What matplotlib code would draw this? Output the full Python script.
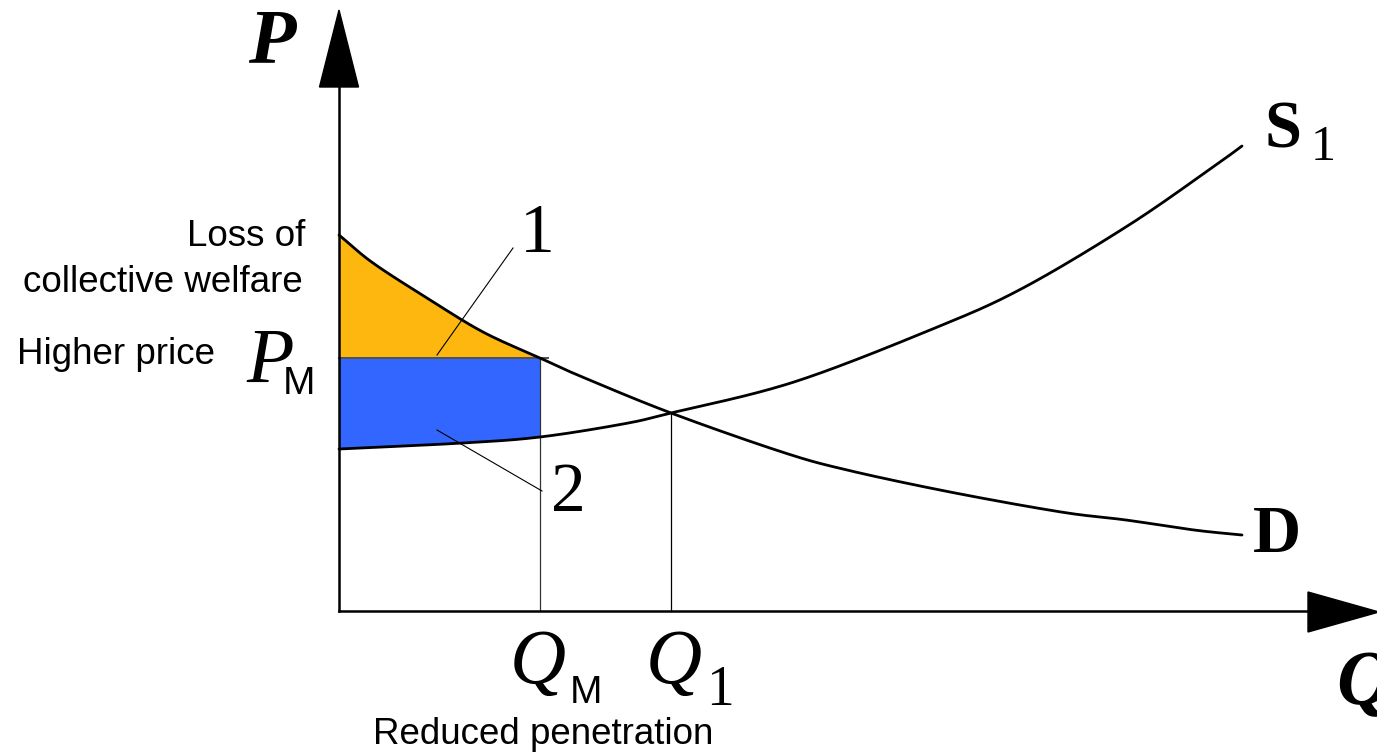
import numpy as np
import matplotlib
matplotlib.use("Agg")
import matplotlib.pyplot as plt
from matplotlib.patches import Polygon

# ---- data (Q, P) ----
d_q = [0.00, 0.34, 0.88, 1.44, 2.01, 2.41, 3.32, 4.43, 5.08, 6.11, 7.22, 7.87, 8.55, 9.03]
d_p = [3.76, 3.48, 3.13, 2.79, 2.53, 2.35, 1.98, 1.59, 1.41, 1.19, 0.99, 0.91, 0.81, 0.76]
s_q = [0.00, 1.24, 2.01, 2.84, 3.32, 4.55, 5.96, 6.84, 7.90, 8.74, 9.03]
s_p = [1.62, 1.68, 1.74, 1.87, 1.98, 2.29, 2.83, 3.23, 3.86, 4.44, 4.65]
q_m, p_m = 2.01, 2.53
q_1, p_1 = 3.32, 1.98

ORANGE = "#FDB70F"
BLUE = "#3366FF"
SERIF = "Liberation Serif"
SANS = "Liberation Sans"


def smooth_path(xs, ys, n=30):
    """Catmull-Rom rendering of a polyline (drawing only)."""
    p = np.column_stack([xs, ys]).astype(float)
    p = np.vstack([2 * p[0] - p[1], p, 2 * p[-1] - p[-2]])
    out = []
    t = np.linspace(0, 1, n, endpoint=False)[:, None]
    for i in range(1, len(p) - 2):
        p0, p1, p2, p3 = p[i - 1], p[i], p[i + 1], p[i + 2]
        seg = 0.5 * ((2 * p1) + (-p0 + p2) * t + (2 * p0 - 5 * p1 + 4 * p2 - p3) * t ** 2
                     + (-p0 + 3 * p1 - 3 * p2 + p3) * t ** 3)
        out.append(seg)
    out.append(p[-2][None, :])
    out = np.vstack(out)
    return out[:, 0], out[:, 1]


fig = plt.figure(figsize=(13.77, 7.54), dpi=100)
ax = fig.add_axes([0, 0, 1, 1])
ax.set_xlim(-3.39, 10.38)
ax.set_ylim(-1.43, 6.11)
ax.axis("off")

dx, dy = smooth_path(d_q, d_p)
sx, sy = smooth_path(s_q, s_p)

# filled regions
qq = np.linspace(0, q_m, 300)
d_i = np.interp(qq, dx, dy)
s_i = np.interp(qq, sx, sy)
ax.fill_between(qq, d_i, p_m, color=ORANGE, lw=0, zorder=1)
ax.fill_between(qq, s_i, p_m, color=BLUE, lw=0, zorder=1)
ax.plot([0, q_m + 0.08], [p_m, p_m], color="#505050", lw=1.4, zorder=2)
ax.plot([q_m, q_m], [0, p_m], color="#333333", lw=0.9, zorder=2)
ax.plot([q_1, q_1], [0, p_1], color="black", lw=0.9, zorder=2)

# curves
ax.plot(dx, dy, color="black", lw=2.0, zorder=3, solid_capstyle="round")
ax.plot(sx, sy, color="black", lw=2.0, zorder=3, solid_capstyle="round")

# axes with arrows
y_top, x_right = 6.01, 10.40
ax.plot([0, 0], [0, 5.24], color="black", lw=1.8, zorder=4)
ax.add_patch(Polygon([[-0.195, 5.24], [0.195, 5.24], [0, y_top]], closed=True,
                     color="black", zorder=4))
ax.plot([0, 9.69], [0, 0], color="black", lw=1.8, zorder=4)
ax.add_patch(Polygon([[9.69, 0.19], [9.69, -0.21], [x_right, -0.01]], closed=True,
                     color="black", zorder=4))

# leader lines
ax.plot([0.98, 1.74], [2.56, 3.63], color="black", lw=0.8, zorder=5)
ax.plot([0.98, 2.03], [1.81, 1.20], color="black", lw=0.8, zorder=5)

# texts
ax.text(-0.67, 5.67, "P", fontfamily=SERIF, fontsize=56, fontweight="bold",
        fontstyle="italic", ha="center", va="center")
ax.text(10.25, -0.75, "Q", fontfamily=SERIF, fontsize=56, fontweight="bold",
        fontstyle="italic", ha="center", va="center")
ax.text(-0.34, 3.74, "Loss of", fontfamily=SANS, fontsize=26.5, ha="right", va="center")
ax.text(-0.36, 3.28, "collective welfare", fontfamily=SANS, fontsize=26.5, ha="right", va="center")
ax.text(-3.22, 2.56, "Higher price", fontfamily=SANS, fontsize=26.5, ha="left", va="center")

ax.text(-0.93, 2.29, "P", fontfamily=SERIF, fontsize=56, fontstyle="italic",
        ha="left", va="baseline")
ax.text(-0.56, 2.17, "M", fontfamily=SANS, fontsize=28, ha="left", va="baseline")

ax.text(1.71, -0.72, "Q", fontfamily=SERIF, fontsize=56, fontstyle="italic",
        ha="left", va="baseline")
ax.text(2.31, -0.92, "M", fontfamily=SANS, fontsize=28, ha="left", va="baseline")
ax.text(3.07, -0.72, "Q", fontfamily=SERIF, fontsize=56, fontstyle="italic",
        ha="left", va="baseline")
ax.text(3.67, -0.94, "1", fontfamily=SERIF, fontsize=40, ha="left", va="baseline")
ax.text(2.04, -1.24, "Reduced penetration", fontfamily=SANS, fontsize=26.5,
        ha="center", va="center")

ax.text(9.26, 4.63, "S", fontfamily=SERIF, fontsize=48, fontweight="bold",
        ha="left", va="baseline")
ax.text(9.72, 4.51, "1", fontfamily=SERIF, fontsize=36, ha="left", va="baseline")
ax.text(9.14, 0.59, "D", fontfamily=SERIF, fontsize=48, fontweight="bold",
        ha="left", va="baseline")

ax.text(1.98, 3.76, "1", fontfamily=SERIF, fontsize=50, ha="center", va="center")
ax.text(2.29, 1.17, "2", fontfamily=SERIF, fontsize=50, ha="center", va="center")

fig.savefig("out.png", dpi=100)
